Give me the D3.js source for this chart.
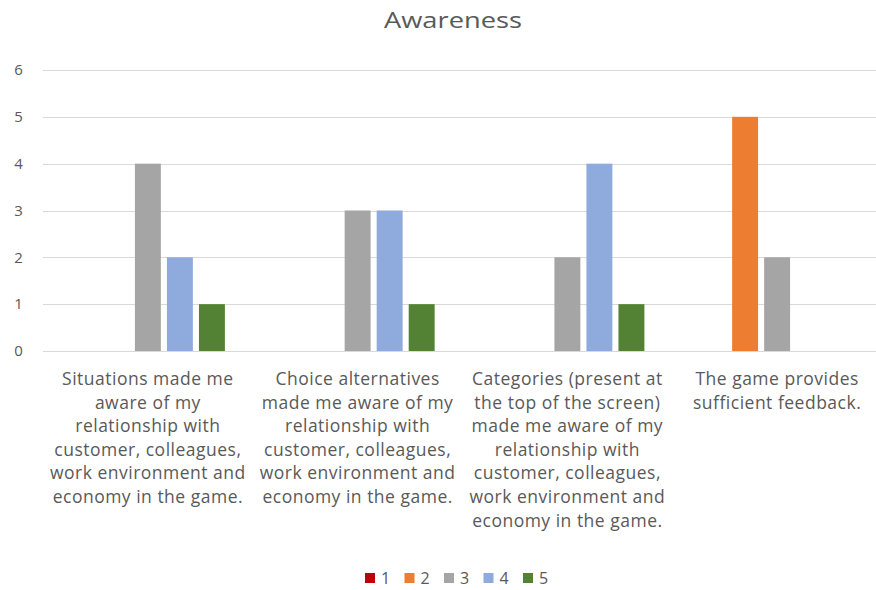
<!DOCTYPE html>
<html><head><meta charset="utf-8">
<script src="https://cdn.jsdelivr.net/npm/d3@7"></script>
<style>
html,body{margin:0;padding:0;background:#fff;}
svg text{font-family:"Open Sans","Noto Sans",sans-serif;fill:#595959;}
</style></head>
<body><svg id="chart" width="876" height="590"></svg>
<script>
const title = "Awareness";
const categories = [
  ["Situations made me", "aware of my", "relationship with", "customer, colleagues,", "work environment and", "economy in the game."],
  ["Choice alternatives", "made me aware of my", "relationship with", "customer, colleagues,", "work environment and", "economy in the game."],
  ["Categories (present at", "the top of the screen)", "made me aware of my", "relationship with", "customer, colleagues,", "work environment and", "economy in the game."],
  ["The game provides", "sufficient feedback."]
];
const seriesNames = ["1", "2", "3", "4", "5"];
const seriesColors = ["#C00000", "#ED7D31", "#A5A5A5", "#8FAADC", "#548235"];
const values1 = [0, 0, 0, 0];
const values2 = [0, 0, 0, 5];
const values3 = [4, 3, 2, 2];
const values4 = [2, 3, 4, 0];
const values5 = [1, 1, 1, 0];
const yTicks = [0, 1, 2, 3, 4, 5, 6];

const seriesValues = [values1, values2, values3, values4, values5];
const svg = d3.select("#chart");

const x0 = d3.scaleBand().domain(d3.range(categories.length)).range([43, 882]).padding(0);
const x1 = d3.scaleBand().domain(seriesNames).range([0, x0.bandwidth()]).paddingInner(0.19).paddingOuter(0.87);
const y = d3.scaleLinear().domain([0, 6]).range([351, 70]);

// gridlines
svg.append("g").selectAll("line").data(yTicks).join("line")
  .attr("x1", 43).attr("x2", 882)
  .attr("y1", d => Math.round(y(d)) + 0.5).attr("y2", d => Math.round(y(d)) + 0.5)
  .attr("stroke", "#D9D9D9").attr("stroke-width", 1);

// y axis labels
const yAxis = d3.axisLeft(y).tickValues(yTicks).tickFormat(d3.format("d")).tickSize(0).tickPadding(0);
const yg = svg.append("g").attr("transform", "translate(18.5,0)").call(yAxis);
yg.select(".domain").remove();
yg.selectAll("text").style("font-size", "15px").attr("fill", "#595959")
  .attr("font-family", null).attr("text-anchor", "middle");

// bars
const groups = svg.append("g").selectAll("g").data(categories).join("g")
  .attr("transform", (d, i) => `translate(${x0(i)},0)`);
groups.selectAll("rect")
  .data((d, i) => seriesNames.map((s, k) => ({ s, k, v: seriesValues[k][i] })))
  .join("rect")
  .filter(d => d.v > 0)
  .attr("x", d => x1(d.s))
  .attr("width", x1.bandwidth())
  .attr("y", d => y(d.v))
  .attr("height", d => y(0) - y(d.v))
  .attr("fill", d => seriesColors[d.k]);

// category labels
groups.each(function (lines) {
  const t = d3.select(this).append("text")
    .attr("text-anchor", "middle")
    .style("font-size", "17.5px")
    .style("letter-spacing", "0.5px");
  t.selectAll("tspan").data(lines).join("tspan")
    .attr("x", x0.bandwidth() / 2)
    .attr("y", (d, j) => 385 + j * 23.6)
    .text(d => d);
});

// title
svg.append("text").attr("transform", "translate(453,28) scale(1.24,1)").attr("text-anchor", "middle")
  .style("font-size", "22px").text(title);

// legend
const legend = svg.append("g").selectAll("g").data(seriesNames).join("g")
  .attr("transform", (d, i) => `translate(${365 + i * 39.5},573)`);
legend.append("rect").attr("width", 10).attr("height", 10).attr("fill", (d, i) => seriesColors[i]);
legend.append("text").attr("x", 16).attr("y", 10.5).style("font-size", "16px").text(d => d);
</script>
</body></html>
